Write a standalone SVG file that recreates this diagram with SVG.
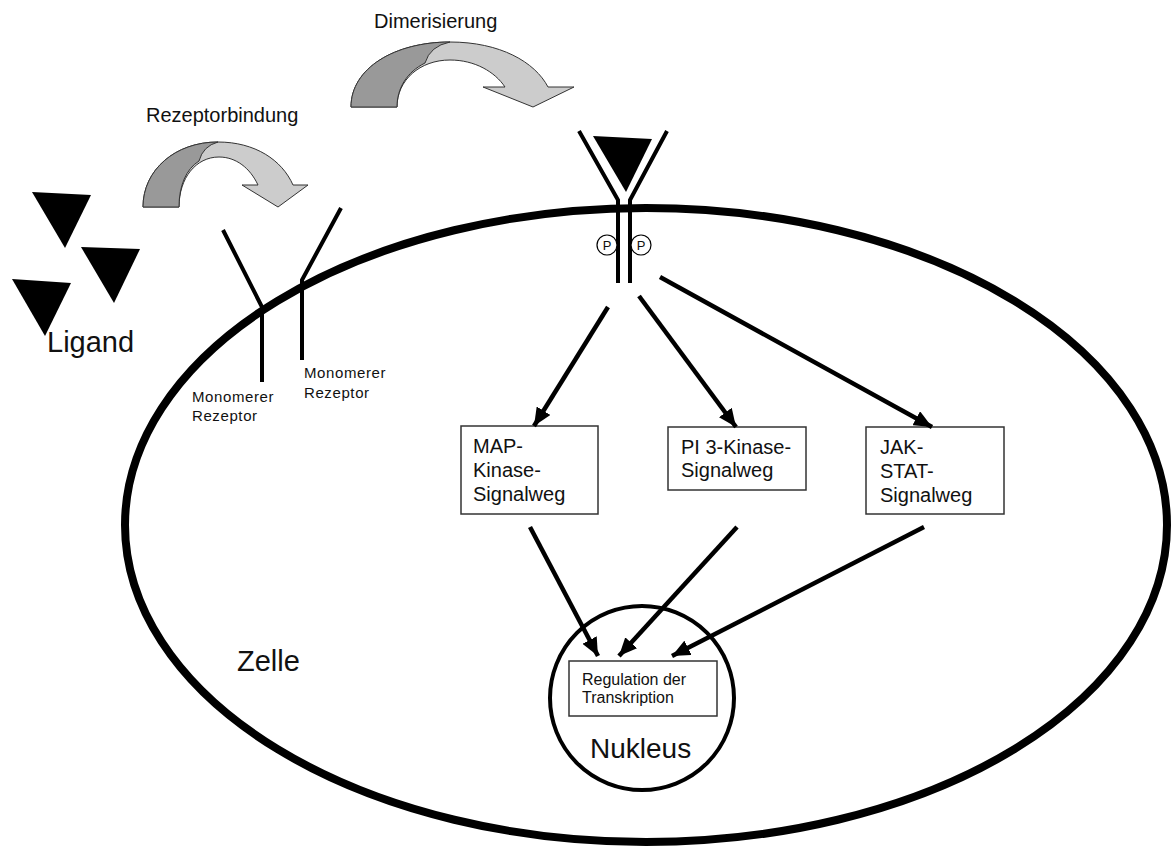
<svg xmlns="http://www.w3.org/2000/svg" width="1171" height="847" viewBox="0 0 1171 847">
<defs>
<style>
text{font-family:"Liberation Sans",Arial,sans-serif;fill:#111}
.box{fill:#fff;stroke:#333;stroke-width:1.5}
.conn{stroke:#000;stroke-width:4.5;fill:none;marker-end:url(#ah)}
.rec{stroke:#000;stroke-width:4;fill:none}
.lig{fill:#000}
.dark{fill:#999;stroke:#333;stroke-width:1}
.light{fill:#ccc;stroke:#333;stroke-width:1}
.lbl{font-size:15px;letter-spacing:0.6px}
.big{font-size:20px}
</style>
<marker id="ah" markerUnits="userSpaceOnUse" markerWidth="20" markerHeight="16" refX="18" refY="8" orient="auto">
<path d="M0,0 L18,8 L0,16 Z" fill="#000"/>
</marker>
</defs>

<g id="zelle">
<ellipse cx="646" cy="525" rx="521" ry="317" fill="none" stroke="#000" stroke-width="8"/>
<text x="237" y="671" style="font-size:29px">Zelle</text>
</g>

<g id="ligand">
<polygon class="lig" points="32,192 91,195 65,248"/>
<polygon class="lig" points="81,247 140,249 114,303"/>
<polygon class="lig" points="12,279 71,283 45,336"/>
<text x="47" y="352" style="font-size:29px">Ligand</text>
</g>

<g id="rezeptorbindung">
<path class="light" d="M143,207 C143,170 175,142 218,142 C255,142 282,160 293,185 L308,185 L278,207 L242,185 L258,185 C250,168 236,157 219,157 C196,157 179,178 179,207 Z"/>
<path class="dark" d="M143,207 C143,170 175,142 218,142 Q203,146 199,161 C186,169 179,186 179,207 Z"/>
<text x="146" y="122" class="big">Rezeptorbindung</text>
</g>

<g id="dimerisierung">
<path class="light" d="M351,107 C351,68 395,42 450,42 C500,42 535,62 548,87 L574,87 L533,107 L483,87 L505,87 C495,72 475,60 450,60 C420,60 397,80 397,107 Z"/>
<path class="dark" d="M351,107 C351,68 395,42 450,42 Q430,46 425,63 C407,72 397,88 397,107 Z"/>
<text x="374" y="28" class="big">Dimerisierung</text>
</g>

<g id="monomer1">
<polyline class="rec" points="223,230 262,307 262,382"/>
<text class="lbl" x="192" y="402">Monomerer</text>
<text class="lbl" x="192" y="421">Rezeptor</text>
</g>

<g id="monomer2">
<polyline class="rec" points="341,208 302,280 302,360"/>
<text class="lbl" x="304" y="378">Monomerer</text>
<text class="lbl" x="304" y="398">Rezeptor</text>
</g>

<g id="dimer">
<polygon class="lig" points="593,136 652,139 626,192"/>
<polyline class="rec" points="579,131 618,200 618,283"/>
<polyline class="rec" points="667,131 630,200 630,283"/>
<circle cx="607" cy="245" r="10" fill="#fff" stroke="#000" stroke-width="1.2"/>
<circle cx="641" cy="245" r="10" fill="#fff" stroke="#000" stroke-width="1.2"/>
<text x="607" y="250" style="font-size:13px" text-anchor="middle">P</text>
<text x="641" y="250" style="font-size:13px" text-anchor="middle">P</text>
</g>

<g id="map">
<rect class="box" x="461" y="426" width="137" height="88"/>
<text x="473" y="453" style="font-size:20px">MAP-</text>
<text x="473" y="477" style="font-size:20px">Kinase-</text>
<text x="473" y="501" style="font-size:20px">Signalweg</text>
</g>

<g id="pi3k">
<rect class="box" x="668" y="427" width="138" height="63"/>
<text x="681" y="454" style="font-size:20px">PI 3-Kinase-</text>
<text x="681" y="477" style="font-size:20px">Signalweg</text>
</g>

<g id="jakstat">
<rect class="box" x="866" y="427" width="138" height="87"/>
<text x="880" y="454" style="font-size:20px">JAK-</text>
<text x="880" y="478" style="font-size:20px">STAT-</text>
<text x="880" y="502" style="font-size:20px">Signalweg</text>
</g>

<g id="nukleus">
<circle cx="642" cy="698" r="92" fill="none" stroke="#000" stroke-width="4"/>
<text x="590" y="758" style="font-size:28px">Nukleus</text>
</g>

<g id="regulation">
<rect class="box" x="569" y="661" width="148" height="55"/>
<text x="582" y="685" style="font-size:16px">Regulation der</text>
<text x="582" y="703" style="font-size:16px">Transkription</text>
</g>

<g id="connectors">
<line class="conn" x1="608" y1="307" x2="534" y2="426"/>
<line class="conn" x1="639" y1="296" x2="736" y2="427"/>
<line class="conn" x1="660" y1="277" x2="932" y2="427"/>
<line class="conn" x1="530" y1="527" x2="598" y2="656"/>
<line class="conn" x1="737" y1="527" x2="619" y2="656"/>
<line class="conn" x1="924" y1="527" x2="672" y2="656"/>
</g>
</svg>
